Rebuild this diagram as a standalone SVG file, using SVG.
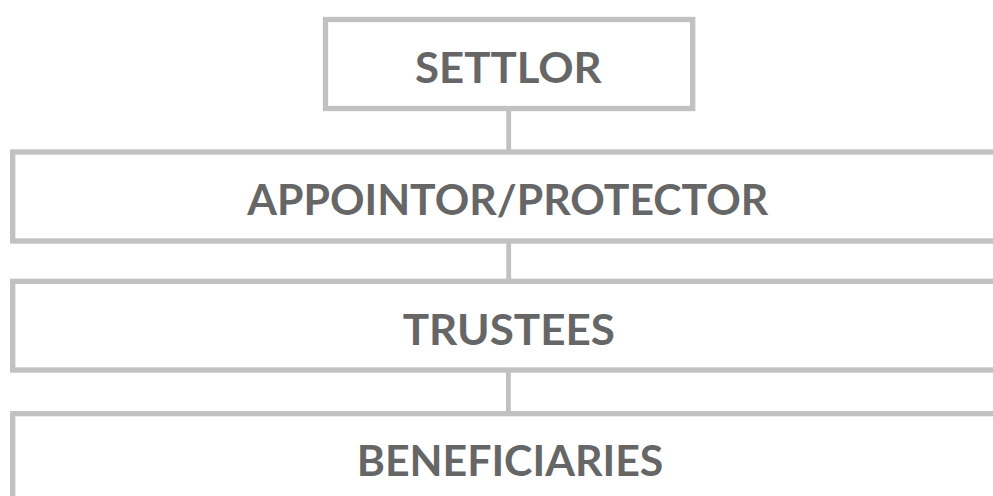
<svg xmlns="http://www.w3.org/2000/svg" width="993" height="496" viewBox="0 0 993 496">
  <style>
    .box { fill: #ffffff; stroke: #c1c1c1; stroke-width: 5.3; }
    .conn { stroke: #c1c1c1; stroke-width: 4.8; fill: none; }
    .lbl { font-family: Lato, "Open Sans", "Liberation Sans", sans-serif; font-weight: 700; font-size: 41.5px; fill: #666666; text-anchor: middle; }
  </style>
  <rect width="993" height="496" fill="#ffffff"/>
  <g id="connectors">
    <line class="conn" x1="508.7" y1="110" x2="508.7" y2="150"/>
    <line class="conn" x1="508.7" y1="242" x2="508.7" y2="280"/>
    <line class="conn" x1="508.4" y1="371" x2="508.4" y2="412"/>
  </g>
  <g id="settlor">
    <rect class="box" x="325.5" y="19.5" width="367.2" height="89"/>
    <text class="lbl" x="508.4" y="83.3" textLength="186.7" lengthAdjust="spacingAndGlyphs">SETTLOR</text>
  </g>
  <g id="appointor">
    <rect class="box" x="12.7" y="152" width="1000" height="89"/>
    <text class="lbl" x="507.8" y="215" textLength="521" lengthAdjust="spacingAndGlyphs">APPOINTOR/PROTECTOR</text>
  </g>
  <g id="trustees">
    <rect class="box" x="12.7" y="281.3" width="1000" height="88.7"/>
    <text class="lbl" x="508.8" y="345" textLength="212.3" lengthAdjust="spacingAndGlyphs">TRUSTEES</text>
  </g>
  <g id="beneficiaries">
    <rect class="box" x="12.7" y="413.7" width="1000" height="120"/>
    <text class="lbl" x="510" y="476" textLength="306.6" lengthAdjust="spacingAndGlyphs">BENEFICIARIES</text>
  </g>
</svg>
